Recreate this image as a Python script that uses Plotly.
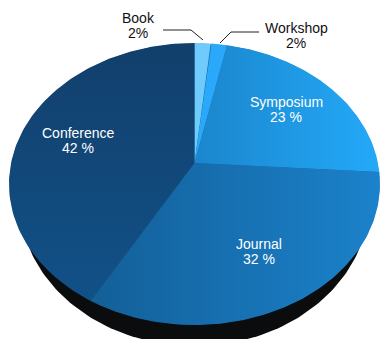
import numpy as np
import plotly.graph_objects as go

# Data
categories = ["Book", "Workshop", "Symposium", "Journal", "Conference"]
values = [2, 2, 23, 32, 42]
value_labels = ["2%", "2%", "23 %", "32 %", "42 %"]

# Styles
gradients = {
    "Book": ("horizontal", "#6fcbfd", "#6fcbfd"),
    "Workshop": ("horizontal", "#2aa9fa", "#2aa9fa"),
    "Symposium": ("horizontal", "#1b86cc", "#23a9f9"),
    "Journal": ("horizontal", "#135f98", "#1b82cb"),
    "Conference": ("vertical", "#115187", "#123f6c"),
}
label_pos = {
    "Book": (138, 18, 33, "#111111"),
    "Workshop": (296, 28, 43, "#111111"),
    "Symposium": (286, 102, 117, "white"),
    "Journal": (259, 244, 259, "white"),
    "Conference": (78, 133, 148, "white"),
}
leaders = {"Book": ([163, 191, 203], [30, 30, 40]), "Workshop": ([259, 231, 220], [32, 32, 43])}

W, H = 380, 339
CX, CY, RX, RY = 194.5, 184, 185.5, 141
AX, AY = 194.5, 163   # apex of the slices under the perspective


def rim(frac):
    # perspective shift of the rim angle, front and back of the tilted disc
    t = 2 * np.pi * np.asarray(frac)
    tp = t - np.radians(11.8) * np.sin(t) - np.radians(2.6) * np.sin(2 * t)
    return CX + RX * np.sin(tp), CY - RY * np.cos(tp)


fig = go.Figure()

# Black side of the disc
a = np.linspace(0, 2 * np.pi, 240)
fig.add_trace(go.Scatter(x=175 * np.sin(a) + 194.5, y=146 * np.cos(a) + 200, mode="lines",
                         fill="toself", fillcolor="#0a0c0e", line=dict(width=0),
                         hoverinfo="skip", showlegend=False))
# Base of the top face, hides the seams between slices
fig.add_trace(go.Scatter(x=CX + (RX - 0.5) * np.sin(a), y=CY + (RY - 0.5) * np.cos(a), mode="lines",
                         fill="toself", fillcolor="#16659f", line=dict(width=0),
                         hoverinfo="skip", showlegend=False))

total = sum(values)
edges = np.cumsum([0] + values) / total
for i, name in enumerate(categories):
    f = np.linspace(edges[i], edges[i + 1], 120)
    rx, ry = rim(f)
    kind, c0, c1 = gradients[name]
    fig.add_trace(go.Scatter(
        x=np.r_[AX, rx, AX], y=np.r_[AY, ry, AY], mode="lines", name=name,
        fill="toself", line=dict(width=0),
        fillgradient=dict(type=kind, colorscale=[[0, c0], [1, c1]]),
        hoverinfo="skip", showlegend=False))

for name, (lx, ly) in leaders.items():
    fig.add_trace(go.Scatter(x=lx, y=ly, mode="lines", line=dict(color="#222222", width=1),
                             hoverinfo="skip", showlegend=False))

for name, val in zip(categories, value_labels):
    x, y1, y2, c = label_pos[name]
    for txt, y in ((name, y1), (val, y2)):
        fig.add_annotation(x=x, y=y, text=txt, showarrow=False, borderpad=0,
                           font=dict(family="Liberation Sans", size=14, color=c))

fig.update_layout(
    width=W, height=H, autosize=False, margin=dict(l=0, r=0, t=0, b=0),
    paper_bgcolor="white", plot_bgcolor="white",
    xaxis=dict(range=[0, W], visible=False, fixedrange=True),
    yaxis=dict(range=[H, 0], visible=False, fixedrange=True),
)
fig.write_html("out.html", config=dict(displayModeBar=False),
               post_script="document.body.style.margin='0';document.documentElement.style.overflow='hidden';")
